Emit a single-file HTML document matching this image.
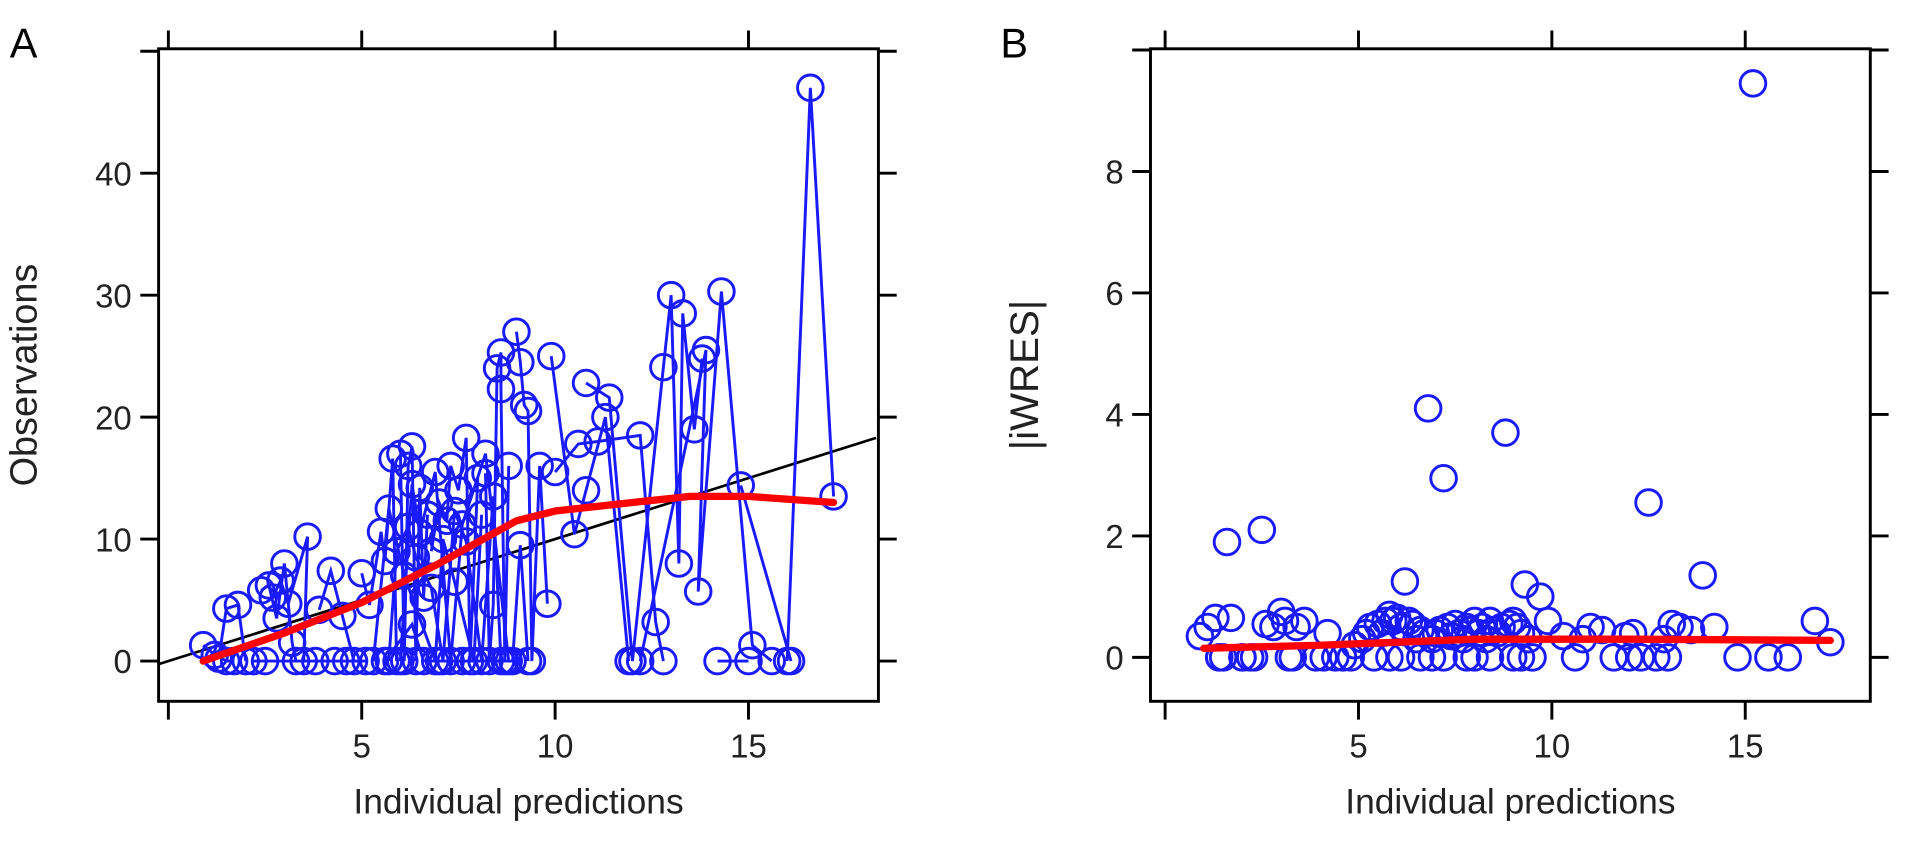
<!DOCTYPE html>
<html><head><meta charset="utf-8"><style>
html,body{margin:0;padding:0;background:#fff;}
svg{display:block;font-family:"Liberation Sans",Arial,sans-serif;}
</style></head><body>
<svg id="chart" width="1913" height="844" viewBox="0 0 1568 692" preserveAspectRatio="none"></svg>
<script>
// ---- Panel A data ----
const groupsA = [
 [[0.9,1.3],[1.2,0.5],[1.5,0],[1.7,0]],
 [[1.3,0.2],[1.5,4.3],[1.8,4.6],[2.0,0]],
 [[2.4,5.8],[2.6,6.2],[2.8,3.5],[3.0,8],[3.2,1.5],[3.3,0]],
 [[2.7,5.2],[2.9,6.6],[3.1,4.7],[3.6,10.2],[3.5,0]],
 [[3.9,4.2],[4.2,7.4],[4.5,3.7],[4.8,0]],
 [[5.0,7.2],[5.2,4.6],[5.5,10.6],[5.6,8.2],[5.8,16.6],[5.9,0]],
 [[6.0,17],[6.1,0],[6.2,16],[6.3,17.6],[6.4,0],[6.5,14.2],[6.6,5.2],[6.7,12]],
 [[6.8,9],[7.0,13],[7.2,11.5],[7.3,16],[7.5,14],[7.7,18.3],[7.8,0],[8.0,15]],
 [[8.2,15.4],[8.3,0],[8.4,4.6],[8.5,24],[8.6,25.3],[8.6,22.3],[8.7,0],[8.8,16]],
 [[9.0,27],[9.1,24.5],[9.2,21],[9.3,20.5],[9.4,0],[9.6,16],[9.8,4.7]],
 [[9.9,25],[10.5,10.4],[10.8,14],[11.3,20],[11.9,0]],
 [[10.0,15.5],[10.6,17.8],[11.1,18],[12.2,18.5],[12.6,3.2],[12.8,0]],
 [[10.8,22.8],[11.4,21.6],[12.0,0],[12.8,24.1],[13.0,30],[13.2,8],[13.3,28.5],[13.6,19],[13.8,24.8]],
 [[12.2,0],[13.9,25.5],[13.7,5.7],[14.3,30.3],[15.1,1.3],[15.6,0]],
 [[14.2,0],[15.0,0]],
 [[16.0,0],[16.6,47],[17.2,13.5]],
 [[14.8,14.4],[16.1,0]],
 [[5.3,0],[5.7,12.5],[6.1,7],[6.9,0],[7.1,10],[7.4,6.5],[7.9,0],[8.1,12]],
 [[2.2,0],[2.5,0],[3.8,0],[4.3,0],[4.6,0],[5.1,0]],
 [[5.6,0],[6.3,3],[6.6,0],[7.0,0],[7.6,0],[8.9,0],[9.1,9.5],[9.3,0]],
 [[5.7,0],[5.9,9],[6.2,11],[6.4,8.5],[6.8,6],[7.1,0],[7.4,12.3],[7.7,9.8],[8.1,0],[8.4,13.5],[8.6,0]],
 [[6.0,0],[6.3,14.5],[6.5,10.5],[6.9,15.5],[7.3,0],[7.6,11.2],[8.2,17],[8.8,0]]
];
const loessA_x = [0.9,3,5,7,9,10,12,13.5,15,17.2];
const loessA_y = [0,2.3,4.8,8,11.5,12.3,13,13.5,13.5,13.0];
const ticksAx = [5,10,15];
const ticksAy = [0,10,20,30,40];

// ---- Panel B data ----
const ptsBx = [0.9,1.1,1.3,1.4,1.5,1.6,1.7,2.0,2.2,2.5,2.6,2.8,3.0,3.1,3.2,3.4,3.6,3.9,4.2,4.4,4.6,4.9,5.1,5.2,5.3,5.5,5.6,5.7,5.8,5.9,6.0,6.1,6.2,6.3,6.4,6.5,6.6,6.7,6.8,6.9,7.0,7.1,7.2,7.3,7.4,7.5,7.6,7.7,7.8,7.9,8.0,8.1,8.2,8.3,8.4,8.5,8.6,8.7,8.8,8.9,9.0,9.1,9.2,9.3,9.4,9.5,9.7,9.9,10.3,10.6,10.8,11.0,11.3,11.6,11.9,12.1,12.3,12.5,12.7,12.9,13.1,13.3,13.6,13.9,14.2,14.8,15.2,15.6,16.1,16.8,17.2,
 1.4,2.0,2.3,3.3,4.1,4.8,5.4,6.1,6.6,7.2,7.8,8.4,9.0,5.8,6.9,8.0,9.2,12.0,13.0];
const ptsBy = [0.35,0.5,0.65,0.0,0.0,1.9,0.65,0.0,0.0,2.1,0.55,0.5,0.75,0.6,0.0,0.5,0.6,0.0,0.4,0.0,0.0,0.2,0.3,0.4,0.5,0.55,0.4,0.6,0.7,0.6,0.65,0.5,1.25,0.6,0.55,0.3,0.45,0.4,4.1,0.3,0.4,0.45,2.95,0.5,0.35,0.55,0.4,0.3,0.5,0.45,0.6,0.4,0.5,0.3,0.6,0.45,0.4,0.5,3.7,0.55,0.6,0.5,0.4,1.2,0.3,0.0,1.0,0.6,0.35,0.0,0.3,0.5,0.45,0.0,0.35,0.4,0.0,2.55,0.0,0.3,0.55,0.5,0.45,1.35,0.5,0.0,9.45,0.0,0.0,0.6,0.25,
 0.0,0.0,0.0,0.0,0.0,0.0,0.0,0.0,0.0,0.0,0.0,0.0,0.0,0.0,0.0,0.0,0.0,0.0,0.0];
const loessB_x = [1,4,8,12,17.2];
const loessB_y = [0.15,0.2,0.3,0.3,0.28];
const ticksBx = [5,10,15];
const ticksBy = [0,2,4,6,8];

const NS="http://www.w3.org/2000/svg";
const svg=document.getElementById('chart');
function mk(tag,attrs,parent){const e=document.createElementNS(NS,tag);for(const k in attrs)e.setAttribute(k,attrs[k]);(parent||svg).appendChild(e);return e;}

function panel(cfg){
  const g=mk('g',{});
  
  
  const sx=v=>cfg.x0+(v-cfg.xmin)*cfg.xs;
  const sy=v=>cfg.y0-(v-cfg.ymin)*cfg.ys;
  const fr=mk('rect',{x:cfg.L,y:cfg.T,width:cfg.R-cfg.L,height:cfg.B-cfg.T,fill:'none',stroke:'#000','stroke-width':2.4},g);
  
  
  cfg.xt.forEach(t=>{
    const x=sx(t);
    mk('line',{x1:x,x2:x,y1:cfg.B,y2:cfg.B+15,stroke:'#000','stroke-width':2.4},g);
    mk('line',{x1:x,x2:x,y1:cfg.T,y2:cfg.T-15,stroke:'#000','stroke-width':2.4},g);
    const tx=mk('text',{x:x,y:cfg.B+46,'font-size':27,'text-anchor':'middle',fill:'#222'},g);
    tx.textContent=t;
    
    
  });
  [0].forEach(t=>{const x=sx(t);
    mk('line',{x1:x,x2:x,y1:cfg.B,y2:cfg.B+15,stroke:'#000','stroke-width':2.4},g);
    mk('line',{x1:x,x2:x,y1:cfg.T,y2:cfg.T-15,stroke:'#000','stroke-width':2.4},g);});
  cfg.yt.forEach(t=>{
    const y=sy(t);
    mk('line',{x1:cfg.L,x2:cfg.L-15,y1:y,y2:y,stroke:'#000','stroke-width':2.4},g);
    mk('line',{x1:cfg.R,x2:cfg.R+15,y1:y,y2:y,stroke:'#000','stroke-width':2.4},g);
    const ty=mk('text',{x:cfg.L-22,y:y+10,'font-size':27,'text-anchor':'end',fill:'#222'},g);
    ty.textContent=t;
    
    
  });
  if(cfg.ytTop!==undefined){const y=sy(cfg.ytTop);
    mk('line',{x1:cfg.L,x2:cfg.L-15,y1:y,y2:y,stroke:'#000','stroke-width':2.4},g);
    mk('line',{x1:cfg.R,x2:cfg.R+15,y1:y,y2:y,stroke:'#000','stroke-width':2.4},g);}
  const xl=mk('text',{x:(cfg.L+cfg.R)/2,y:cfg.B+92,'font-size':29,'text-anchor':'middle',fill:'#222'},g);
  xl.textContent='Individual predictions';
  
  
  const yl=mk('text',{x:0,y:0,'font-size':cfg.ylSize,'text-anchor':'middle',fill:'#222',transform:`translate(${cfg.L-cfg.ylOff},${(cfg.T+cfg.B)/2}) rotate(-90)`},g);
  yl.textContent=cfg.ylabel;
  
  
  const pl=mk('text',{x:cfg.plx,y:47,'font-size':34,fill:'#000'},g);
  pl.textContent=cfg.letter;
  
  
  const clip=mk('g',{},g);
  return {g:clip,sx,sy};
}

// Panel A
const A=panel({name:'panel-a',L:130,R:720,T:40,B:575,x0:138,xmin:0,xs:31.7,y0:542,ymin:0,ys:10.0,xt:ticksAx,yt:ticksAy,ytTop:50,ylabel:'Observations',ylSize:31,ylOff:100,letter:'A',plx:8});
const idl=mk('line',{x1:A.sx(-0.25),y1:A.sy(-0.25),x2:A.sx(18.3),y2:A.sy(18.3),stroke:'#000','stroke-width':2.2},A.g);


groupsA.forEach(grp=>{
  const pl=mk('polyline',{points:grp.map(p=>A.sx(p[0])+','+A.sy(p[1])).join(' '),fill:'none',stroke:'#1a1aff','stroke-width':2.4},A.g);
  
  
  grp.forEach(p=>{
    const c=mk('circle',{cx:A.sx(p[0]),cy:A.sy(p[1]),r:10.5,fill:'none',stroke:'#1a1aff','stroke-width':2.4},A.g);
    
    
  });
});
const la=mk('polyline',{points:loessA_x.map((x,i)=>A.sx(x)+','+A.sy(loessA_y[i])).join(' '),fill:'none',stroke:'#ff0000','stroke-width':6,'stroke-linejoin':'round','stroke-linecap':'round'},A.g);



// Panel B
const B=panel({name:'panel-b',L:943,R:1533,T:40,B:575,x0:955,xmin:0,xs:31.7,y0:539,ymin:0,ys:49.8,xt:ticksBx,yt:ticksBy,ytTop:10,ylabel:'|iWRES|',ylSize:33,ylOff:92,letter:'B',plx:820});
ptsBx.forEach((x,i)=>{
  const c=mk('circle',{cx:B.sx(x),cy:B.sy(ptsBy[i]),r:10.5,fill:'none',stroke:'#1a1aff','stroke-width':2.4},B.g);
  
  
});
const lb=mk('polyline',{points:loessB_x.map((x,i)=>B.sx(x)+','+B.sy(loessB_y[i])).join(' '),fill:'none',stroke:'#ff0000','stroke-width':6,'stroke-linecap':'round'},B.g);


</script>
</body></html>
